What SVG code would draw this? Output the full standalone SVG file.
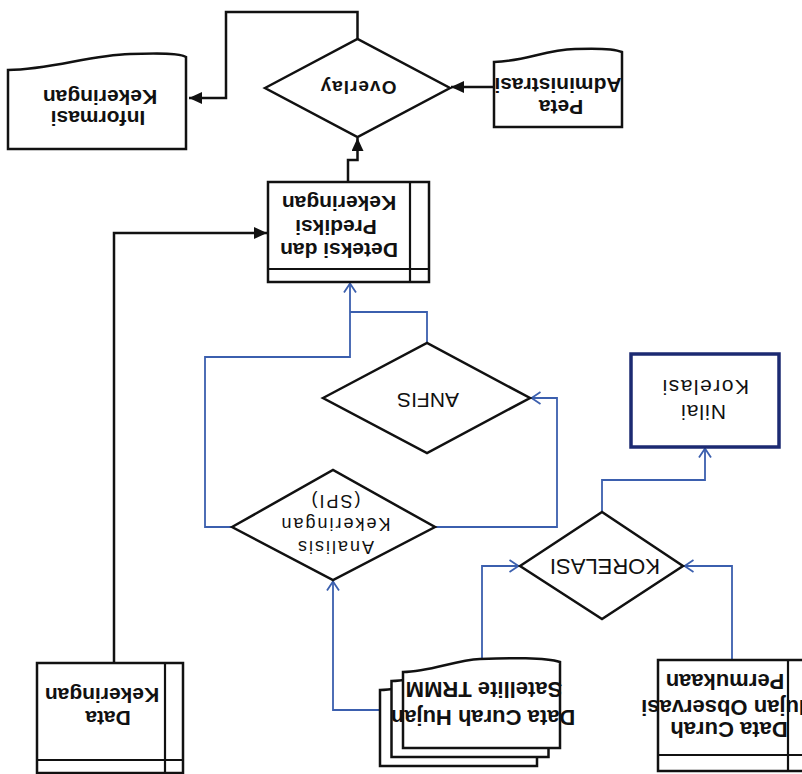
<svg xmlns="http://www.w3.org/2000/svg" xmlns:xlink="http://www.w3.org/1999/xlink" width="802" height="774" viewBox="0 0 802 774">
<style>
.bx{fill:#fff;stroke:#111;stroke-width:2.5}
.ln{fill:none;stroke:#111;stroke-width:2.2}
.k{fill:none;stroke:#111;stroke-width:2.5}
.b{fill:none;stroke:#3b5fae;stroke-width:1.8}
text{font-family:"Liberation Sans",Arial,sans-serif;fill:#111;text-anchor:middle}
.tb{font-size:21px;font-weight:bold}
.tb22{font-size:22px;font-weight:bold}
.tr{font-size:21px}
.ts{font-size:18px;letter-spacing:2px}
</style>
<defs>
<marker id="ab" markerUnits="userSpaceOnUse" markerWidth="14" markerHeight="12" refX="13" refY="6" orient="auto"><path d="M0,0 L13,6 L0,12 Z" fill="#111"/></marker>
<marker id="ao" markerUnits="userSpaceOnUse" markerWidth="12" markerHeight="14" refX="10.5" refY="7" orient="auto"><path d="M1,1 L10,7 L1,13" fill="none" stroke="#3b5fae" stroke-width="1.8"/></marker>
<path id="doc3" d="M403,748 V672 C430,672 455,660 480,659 C510,658 545,657 560,662 V748 Z"/>
</defs>
<rect width="802" height="774" fill="#fff"/>

<g id="connectors">
<path class="k" d="M357.5,39 V12 H226 V98 H189" marker-end="url(#ab)"/>
<path class="k" d="M494,87 H451" marker-end="url(#ab)"/>
<path class="k" d="M348,182 V160 H357.5 V138" marker-end="url(#ab)"/>
<path class="k" d="M114,663 V233 H267" marker-end="url(#ab)"/>
<path class="b" d="M232,527 H205 V357 H350 V283" marker-end="url(#ao)"/>
<path class="b" d="M427,343 V312 H350"/>
<path class="b" d="M435,527 H557 V398 H531" marker-end="url(#ao)"/>
<path class="b" d="M482,658 V566 H519" marker-end="url(#ao)"/>
<path class="b" d="M732,660 V566 H684" marker-end="url(#ao)"/>
<path class="b" d="M602,512 V480 H705 V448" marker-end="url(#ao)"/>
<path class="b" d="M380,710 H333 V581" marker-end="url(#ao)"/>
</g>

<g id="informasi">
<path class="bx" d="M8,149 V70 C50,70 90,55 130,54 C160,53 180,53 186,57 V149 Z"/>
<text class="tb" x="100" y="104" transform="rotate(180 100 97)">Kekeringan</text>
<text class="tb" x="98" y="125" transform="rotate(180 98 118)">Informasi</text>
</g>

<g id="overlay">
<polygon class="bx" points="265,88 357.5,39 450,88 357.5,137"/>
<text class="tb" style="font-size:19px;letter-spacing:1px" x="358" y="95" transform="rotate(180 358 88)">Overlay</text>
</g>

<g id="peta">
<path class="bx" d="M494,127 V62 C525,61 545,50 575,49 C600,48 615,49 622,52 V127 Z"/>
<text class="tb" x="558" y="92" transform="rotate(180 558 85)">Administrasi</text>
<text class="tb" x="561" y="114" transform="rotate(180 561 107)">Peta</text>
</g>

<g id="deteksi">
<rect class="bx" x="268" y="182" width="161" height="100"/>
<line class="ln" x1="410" y1="182" x2="410" y2="282"/>
<line class="ln" x1="268" y1="269" x2="429" y2="269"/>
<text class="tb" x="339" y="210" transform="rotate(180 339 203)">Kekeringan</text>
<text class="tb" x="336" y="234" transform="rotate(180 336 227)">Prediksi</text>
<text class="tb" x="339" y="257" transform="rotate(180 339 250)">Deteksi dan</text>
</g>

<g id="anfis">
<polygon class="bx" points="323,398 427,343 530,398 427,453"/>
<text class="tr" x="428" y="407" transform="rotate(180 428 400)">ANFIS</text>
</g>

<g id="analisis">
<polygon class="bx" points="232,527 333,470 435,527 333,580"/>
<text class="ts" x="335" y="507" transform="rotate(180 335 501)">(SPI)</text>
<text class="ts" x="335" y="530" transform="rotate(180 335 524)">Kekeringan</text>
<text class="ts" x="335" y="553" transform="rotate(180 335 547)">Analisis</text>
</g>

<g id="nilai">
<rect x="631" y="354" width="148" height="93" fill="#fff" stroke="#1c2a72" stroke-width="3.5"/>
<text class="tr" style="letter-spacing:1.5px" x="705" y="394" transform="rotate(180 705 387)">Korelasi</text>
<text class="tr" style="letter-spacing:1px" x="703" y="419" transform="rotate(180 703 412)">Nilai</text>
</g>

<g id="korelasi">
<polygon class="bx" points="520,566 602,512 683,566 602,619"/>
<text class="tr" style="font-size:22px" x="605" y="575" transform="rotate(180 605 567)">KORELASI</text>
</g>

<g id="data-kekeringan">
<rect class="bx" x="37" y="663" width="146" height="110"/>
<line class="ln" x1="165" y1="663" x2="165" y2="773"/>
<line class="ln" x1="37" y1="760" x2="183" y2="760"/>
<text class="tb" x="102" y="702" transform="rotate(180 102 695)">Kekeringan</text>
<text class="tb" x="108" y="725" transform="rotate(180 108 718)">Data</text>
</g>

<g id="trmm">
<use xlink:href="#doc3" class="bx" transform="translate(-23,18)"/>
<use xlink:href="#doc3" class="bx" transform="translate(-11.5,9)"/>
<use xlink:href="#doc3" class="bx"/>
<text class="tb22" x="484" y="698" transform="rotate(180 484 690)">Satellite TRMM</text>
<text class="tb22" x="483" y="726" transform="rotate(180 483 718)">Data  Curah  Hujan</text>
</g>

<g id="observasi">
<rect class="bx" x="658" y="660" width="160" height="111"/>
<line class="ln" x1="658" y1="755" x2="802" y2="755"/>
<text class="tb22" x="725" y="690" transform="rotate(180 725 682)">Permukaan</text>
<text class="tb22" x="728" y="716" transform="rotate(180 728 708)">Hujan Observasi</text>
<text class="tb22" x="729" y="738" transform="rotate(180 729 730)">Data Curah</text>
<line class="ln" x1="788" y1="660" x2="788" y2="771"/>
</g>
</svg>
